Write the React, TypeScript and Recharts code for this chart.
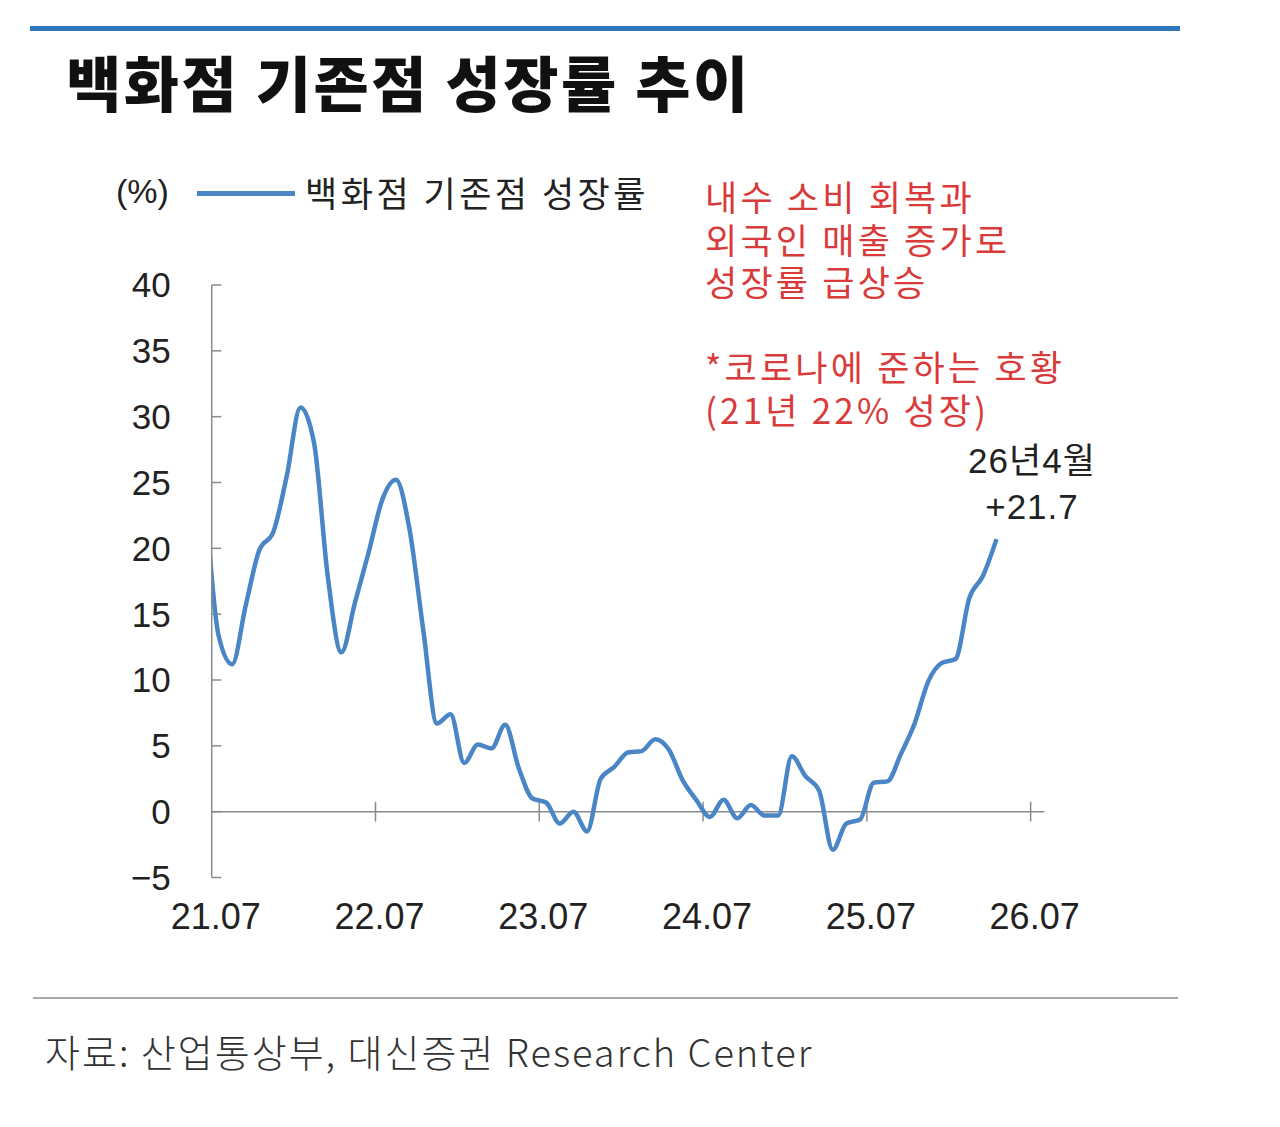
import React from 'react';
import {
  LineChart,
  Line,
  XAxis,
  YAxis,
  ReferenceLine,
} from 'recharts';

// monthly labels, 21.06 .. 26.04 (21.06 sits left of the axis and is clipped)
const months = [
  '21.06', '21.07', '21.08', '21.09', '21.10', '21.11', '21.12',
  '22.01', '22.02', '22.03', '22.04', '22.05', '22.06', '22.07', '22.08', '22.09', '22.10', '22.11', '22.12',
  '23.01', '23.02', '23.03', '23.04', '23.05', '23.06', '23.07', '23.08', '23.09', '23.10', '23.11', '23.12',
  '24.01', '24.02', '24.03', '24.04', '24.05', '24.06', '24.07', '24.08', '24.09', '24.10', '24.11', '24.12',
  '25.01', '25.02', '25.03', '25.04', '25.05', '25.06', '25.07', '25.08', '25.09', '25.10', '25.11', '25.12',
  '26.01', '26.02', '26.03', '26.04',
];

const growth = [
  24.5, 13.4, 11.2, 15.7, 19.9, 21.2, 25.5,
  30.7, 28.0, 17.9, 12.1, 15.9, 19.7, 23.7, 25.2, 21.4, 13.8, 6.7, 7.4,
  3.7, 5.1, 4.8, 6.6, 3.3, 1.0, 0.7, -0.9, 0.0, -1.5, 2.5, 3.4,
  4.5, 4.6, 5.5, 4.7, 2.4, 0.9, -0.4, 0.9, -0.5, 0.5, -0.3, -0.3,
  4.2, 2.7, 1.6, -2.9, -0.9, -0.6, 2.2, 2.3, 4.4, 6.7, 9.9, 11.3,
  11.6, 16.2, 17.9, 20.7,
];

const xTickLabels = ['21.07', '22.07', '23.07', '24.07', '25.07', '26.07'];
const yTicks = [-5, 0, 5, 10, 15, 20, 25, 30, 35, 40];

const seriesName = '백화점 기존점 성장률';
const unitText = '(%)';
const titleText = '백화점 기존점 성장률 추이';
const noteLines = ['내수 소비 회복과', '외국인 매출 증가로', '성장률 급상승', '', '*코로나에 준하는 호황', '(21년 22% 성장)'];
const lastLabel = ['26년4월', '+21.7'];
const sourceText = '자료: 산업통상부, 대신증권 Research Center';

// month 21.07 = 0; each value is drawn mid-month
const firstIdx = months.indexOf('21.07');
const data = months.map((m, i) => ({ month: m, x: i - firstIdx + 0.5, value: growth[i] }));
const xTicks = xTickLabels.map((_, i) => i * 12);

const BLUE = '#4a86c6';
const AXIS = '#8a8a8a';
const FONT = '"Liberation Sans", "Noto Sans CJK KR", sans-serif';
const KFONT = '"Noto Sans CJK KR", sans-serif';

export default function App() {
  return (
    <div style={{ position: 'absolute', top: 0, left: 0, width: 1280, height: 1127, background: '#fff', overflow: 'hidden' }}>
      <div style={{ position: 'absolute', left: 30, top: 26, width: 1150, height: 5, background: '#2f78bd' }} />
      <div style={{ position: 'absolute', left: 66, top: 50, fontFamily: KFONT, fontWeight: 900, fontSize: 60, letterSpacing: 2.6, lineHeight: '62px', color: '#111', whiteSpace: 'nowrap' }}>
        {titleText}
      </div>

      {/* legend */}
      <div style={{ position: 'absolute', left: 116, top: 166, display: 'flex', alignItems: 'center', color: '#222', whiteSpace: 'nowrap' }}>
        <span style={{ fontFamily: FONT, fontSize: 34, width: 81 }}>{unitText}</span>
        <span style={{ display: 'inline-block', width: 98, height: 5, background: BLUE, marginRight: 10, marginTop: 4 }} />
        <span style={{ fontFamily: KFONT, fontSize: 35, letterSpacing: 3.5 }}>{seriesName}</span>
      </div>

      <LineChart
        width={1280}
        height={1127}
        data={data}
        margin={{ top: 285, left: 151.7, right: 235.7, bottom: 189.5 }}
        style={{ position: 'absolute', left: 0, top: 0 }}
      >
        <XAxis
          type="number"
          dataKey="x"
          domain={[0, 61]}
          allowDataOverflow
          ticks={xTicks}
          interval={0}
          tickFormatter={(v) => xTickLabels[v / 12]}
          axisLine={false}
          tickLine={false}
          tickSize={0}
          tickMargin={26}
          height={60}
          tick={{ fill: '#222', fontSize: 36, fontFamily: FONT, dx: 4 }}
        />
        <YAxis
          type="number"
          domain={[-5, 40]}
          ticks={yTicks}
          interval={0}
          allowDataOverflow
          tickFormatter={(v) => (v < 0 ? `−${Math.abs(v)}` : `${v}`)}
          axisLine={{ stroke: AXIS, strokeWidth: 1.5 }}
          tickLine={false}
          tickSize={0}
          tickMargin={41}
          width={60}
          tick={{ fill: '#222', fontSize: 35, fontFamily: FONT }}
        />
        <ReferenceLine y={0} stroke={AXIS} strokeWidth={1.5} />
        {yTicks.map((t) => (
          <ReferenceLine key={`yt${t}`} segment={[{ x: 0, y: t }, { x: 0.7, y: t }]} stroke={AXIS} strokeWidth={1.5} />
        ))}
        {xTicks.slice(1).map((t) => (
          <ReferenceLine key={`xt${t}`} segment={[{ x: t, y: -0.75 }, { x: t, y: 0.75 }]} stroke={AXIS} strokeWidth={1.5} />
        ))}
        <Line
          type="monotone"
          dataKey="value"
          name={seriesName}
          stroke={BLUE}
          strokeWidth={4.5}
          dot={false}
          activeDot={false}
          isAnimationActive={false}
        />
      </LineChart>

      <div style={{ position: 'absolute', left: 705, top: 175, fontFamily: KFONT, fontSize: 35, lineHeight: '42.5px', color: '#d93a3a', letterSpacing: 3.2, whiteSpace: 'pre' }}>
        {noteLines.map((l, i) => (
          <div key={i} style={{ height: 42.5 }}>{l}</div>
        ))}
      </div>

      <div style={{ position: 'absolute', left: 952, top: 438, width: 160, textAlign: 'center', fontFamily: FONT, fontSize: 35, letterSpacing: 1, lineHeight: '46px', color: '#222' }}>
        {lastLabel.map((l, i) => (
          <div key={i}>{l}</div>
        ))}
      </div>

      <div style={{ position: 'absolute', left: 33, top: 997, width: 1145, height: 2, background: '#a8a8a8' }} />
      <div style={{ position: 'absolute', left: 45, top: 1030, fontFamily: KFONT, fontWeight: 300, fontSize: 38, letterSpacing: 2, lineHeight: '42px', color: '#333', whiteSpace: 'nowrap' }}>
        {sourceText}
      </div>
    </div>
  );
}
